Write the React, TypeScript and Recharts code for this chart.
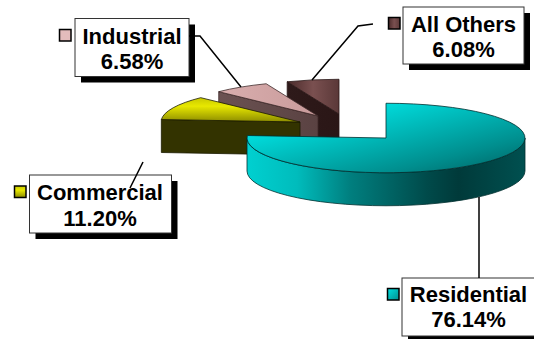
import { PieChart, Pie } from 'recharts';

const categories = ['All Others', 'Industrial', 'Commercial', 'Residential'];
const shares = [6.08, 6.58, 11.2, 76.14];

const pieData = categories.map((name, i) => ({ name, value: shares[i] }));

const FLATTEN = 0.25;
const BODY_FONT = '"Liberation Sans", Arial, sans-serif';

// how each slice sits and how its callout is placed
const sliceStyle: Record<string, any> = {
  'All Others': {
    dx: -47, dy: -24, depth: 36, top: 'url(#othersTop)', wall: 'url(#othersWall)', rim: '#2a1616', key: 'url(#othersTop)',
    box: [403, 7, 121, 57], keyAt: [388, 17], textX: 463.5, base: [31.5, 57], leader: 'M312,80 L358,26 L373,24',
  },
  Industrial: {
    dx: -68, dy: -22, depth: 36, top: 'url(#industrialTop)', wall: 'url(#industrialWall)', rim: '#3d2a2a', key: '#e3bcbc',
    box: [75, 18.5, 114, 58], keyAt: [59, 29], textX: 132, base: [43.5, 69], leader: 'M189,36 L200,36 L241,87',
  },
  Commercial: {
    dx: -86, dy: -16, depth: 33, top: 'url(#commercialTop)', wall: '#333300', rim: '#1a1a00', key: 'url(#commercialTop)',
    box: [29.5, 175, 142, 58], keyAt: [14, 185.5], textX: 100, base: [200, 226], leader: 'M143,162 L130,188',
  },
  Residential: {
    dx: 0, dy: 0, depth: 33, top: 'url(#residentialTop)', wall: 'url(#residentialWall)', rim: '#002e2e', key: 'url(#residentialKey)',
    box: [402, 278, 140, 58], keyAt: [387, 288], textX: 468.5, base: [302, 327], leader: 'M479,197 L479,278',
  },
};

const onEllipse = (cx: number, cy: number, r: number, deg: number) => {
  const a = (deg * Math.PI) / 180;
  return [cx + r * Math.cos(a), cy - r * FLATTEN * Math.sin(a)];
};

// flattened slice with its visible side faces
const Slice3D = (props: any) => {
  const { cx, cy, outerRadius: r, startAngle, endAngle, name } = props;
  const s = sliceStyle[name];
  const x = cx + s.dx;
  const y = cy + s.dy;
  const ry = r * FLATTEN;
  const [sx, sy] = onEllipse(x, y, r, startAngle);
  const [ex, ey] = onEllipse(x, y, r, endAngle);
  const large = endAngle - startAngle > 180 ? 1 : 0;
  const topPath = `M${x},${y} L${sx},${sy} A${r},${ry} 0 ${large} 0 ${ex},${ey} Z`;

  // the cut face at the far end of the sweep looks toward the viewer in the back-left quarter
  const cutFace = endAngle > 90 && endAngle < 180;
  const frontFrom = Math.max(startAngle, 180);
  const frontTo = Math.min(endAngle, 360);
  const hasFront = frontTo > frontFrom;

  let frontPath = '';
  if (hasFront) {
    const [ax, ay] = onEllipse(x, y, r, frontFrom);
    const [bx, by] = onEllipse(x, y, r, frontTo);
    frontPath = `M${ax},${ay} A${r},${ry} 0 0 0 ${bx},${by} L${bx},${by + s.depth} A${r},${ry} 0 0 1 ${ax},${ay + s.depth} Z`;
  }

  return (
    <g>
      {cutFace && (
        <path
          d={`M${ex},${ey} L${x},${y} L${x},${y + s.depth} L${ex},${ey + s.depth} Z`}
          fill={s.wall}
          stroke={s.rim}
          strokeWidth={0.8}
        />
      )}
      {hasFront && <path d={frontPath} fill={s.wall} stroke={s.rim} strokeWidth={0.8} />}
      <path d={topPath} fill={s.top} stroke={s.rim} strokeWidth={0.8} />
    </g>
  );
};

// boxed callout with drop shadow, colour key and leader
const renderCallout = (props: any) => {
  const { name, value } = props;
  const s = sliceStyle[name];
  const [bx, by, bw, bh] = s.box;
  return (
    <g key={name}>
      <rect x={bx + 6} y={by + 6} width={bw} height={bh} fill="#000" />
      <rect x={bx} y={by} width={bw} height={bh} fill="#fff" stroke="#333" strokeWidth={1} />
      <rect x={s.keyAt[0] + 0.5} y={s.keyAt[1] + 0.5} width={11.5} height={11.5} fill={s.key} stroke="#000" strokeWidth={1.5} />
      <text x={s.textX} y={s.base[0]} textAnchor="middle" fontFamily={BODY_FONT} fontWeight="bold" fontSize={22} fill="#000">
        {name}
      </text>
      <text x={s.textX} y={s.base[1]} textAnchor="middle" fontFamily={BODY_FONT} fontWeight="bold" fontSize={22} fill="#000">
        {value.toFixed(2)}%
      </text>
      <path d={s.leader} fill="none" stroke="#000" strokeWidth={1.5} />
    </g>
  );
};

export default function App() {
  return (
    <div style={{ position: 'absolute', left: 0, top: 0, width: 534, height: 339, background: '#fff', overflow: 'hidden' }}>
      <PieChart width={534} height={339} margin={{ top: 0, right: 0, bottom: 0, left: 0 }}>
        <defs>
          <linearGradient id="residentialTop" x1="0" y1="0" x2="1" y2="1">
            <stop offset="0.2" stopColor="#00e2e2" />
            <stop offset="0.75" stopColor="#008e8e" />
            <stop offset="1" stopColor="#006060" />
          </linearGradient>
          <linearGradient id="residentialWall" x1="0" y1="0" x2="1" y2="0">
            <stop offset="0" stopColor="#00d0d0" />
            <stop offset="0.18" stopColor="#00bcbc" />
            <stop offset="0.37" stopColor="#007f7f" />
            <stop offset="0.65" stopColor="#004a4a" />
            <stop offset="0.76" stopColor="#003a3a" />
            <stop offset="1" stopColor="#005050" />
          </linearGradient>
          <linearGradient id="residentialKey" x1="0" y1="0" x2="1" y2="1">
            <stop offset="0" stopColor="#00e2e2" />
            <stop offset="1" stopColor="#008e8e" />
          </linearGradient>
          <linearGradient id="commercialTop" x1="0" y1="0" x2="0" y2="1">
            <stop offset="0" stopColor="#c8c800" />
            <stop offset="0.35" stopColor="#e8e800" />
            <stop offset="1" stopColor="#8c8c00" />
          </linearGradient>
          <linearGradient id="industrialTop" x1="0" y1="0" x2="1" y2="0">
            <stop offset="0" stopColor="#d9aeae" />
            <stop offset="1" stopColor="#c99b9b" />
          </linearGradient>
          <linearGradient id="industrialWall" x1="0" y1="0" x2="1" y2="0">
            <stop offset="0" stopColor="#6b5252" />
            <stop offset="1" stopColor="#5a4242" />
          </linearGradient>
          <linearGradient id="othersTop" x1="0" y1="0" x2="1" y2="0">
            <stop offset="0" stopColor="#4a2a2a" />
            <stop offset="0.5" stopColor="#7a5050" />
            <stop offset="1" stopColor="#5a3838" />
          </linearGradient>
          <linearGradient id="othersWall" x1="0" y1="0" x2="1" y2="0">
            <stop offset="0" stopColor="#2e1a1a" />
            <stop offset="1" stopColor="#2a1616" />
          </linearGradient>
        </defs>
        <Pie
          data={pieData}
          dataKey="value"
          nameKey="name"
          cx={386}
          cy={138}
          outerRadius={139}
          innerRadius={0}
          startAngle={90}
          endAngle={450}
          stroke="none"
          isAnimationActive={false}
          shape={Slice3D}
          label={renderCallout}
          labelLine={false}
        />
      </PieChart>
    </div>
  );
}
